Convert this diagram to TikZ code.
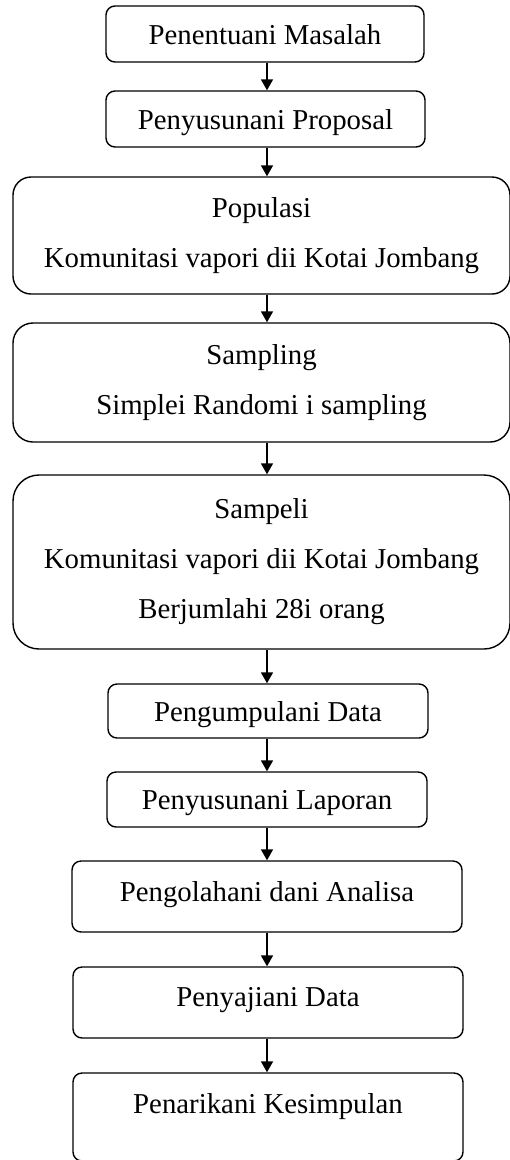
\documentclass[tikz,border=0pt]{standalone}
\usepackage{fontspec}
\setmainfont{Liberation Serif}
\usetikzlibrary{arrows.meta,positioning}

\begin{document}
\begin{tikzpicture}[x=1pt, y=-1pt,
  flow/.style={draw, rectangle, line width=1.4pt, inner sep=0pt, font=\fontsize{28.8}{50}\selectfont},
  stepbox/.style={flow, rounded corners=9pt, text height=20pt, text depth=0pt},
  widebox/.style={flow, rounded corners=20pt, minimum width=497pt, align=center},
  ptr/.style={-{Triangle[length=11pt,width=12pt]}, line width=1.8pt}
]
\useasboundingbox (0,0) rectangle (510,1160);
\coordinate (axis) at (267,0);
\node[stepbox, minimum width=318pt, minimum height=56pt] (masalah) at (265,34) {Penentuani Masalah\hspace{24pt}};
\node[stepbox, minimum width=319pt, minimum height=56pt] (proposal) at (265.5,119) {Penyusunani Proposal\hspace{19pt}};
\node[widebox, minimum height=117pt, rounded corners=18pt] (populasi) at (261.5,235.5) {Populasi\\Komunitasi vapori dii Kotai Jombang};
\node[widebox, minimum height=119pt] (sampling) at (261.5,382.5) {Sampling\\Simplei Randomi i sampling};
\node[widebox, minimum height=174pt, rounded corners=26pt] (sampel) at (261.5,562) {Sampeli\\Komunitasi vapori dii Kotai Jombang\\Berjumlahi 28i orang};
\node[stepbox, minimum width=320pt, minimum height=54pt] (pengumpulan) at (268,711) {Pengumpulani Data\hspace{21pt}};
\node[stepbox, minimum width=320pt, minimum height=55pt] (laporan) at (267,799.5) {Penyusunani Laporan\hspace{20pt}};
\node[stepbox, minimum width=390pt, minimum height=71pt, text depth=10pt] (analisa) at (267,896.5) {Pengolahani dani Analisa\hspace{24pt}};
\node[stepbox, minimum width=390pt, minimum height=71pt, text depth=12pt] (penyajian) at (268,1002.5) {Penyajiani Data\hspace{17pt}};
\node[stepbox, minimum width=390pt, minimum height=88pt, text depth=27pt] (kesimpulan) at (268,1117) {Penarikani Kesimpulan\hspace{29pt}};
% arrows down the middle
\draw[ptr] (masalah.south -| axis) -- (proposal.north -| axis);
\draw[ptr] (proposal.south -| axis) -- (populasi.north -| axis);
\draw[ptr] (populasi.south -| axis) -- (sampling.north -| axis);
\draw[ptr] (sampling.south -| axis) -- (sampel.north -| axis);
\draw[ptr] (sampel.south -| axis) -- (pengumpulan.north -| axis);
\draw[ptr] (pengumpulan.south -| axis) -- (laporan.north -| axis);
\draw[ptr] (laporan.south -| axis) -- (analisa.north -| axis);
\draw[ptr] (analisa.south -| axis) -- (penyajian.north -| axis);
\draw[ptr] (penyajian.south -| axis) -- (kesimpulan.north -| axis);
\end{tikzpicture}
\end{document}
